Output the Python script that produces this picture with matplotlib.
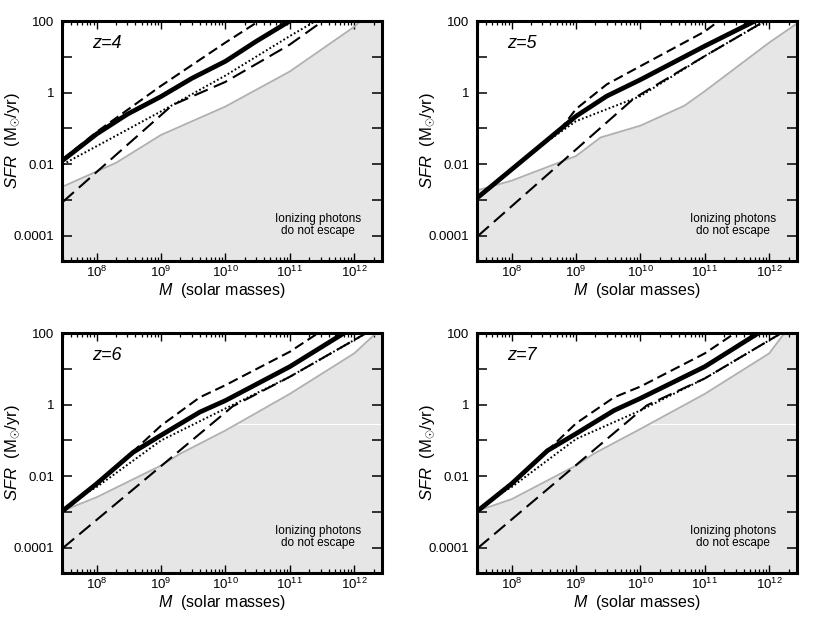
import numpy as np
import matplotlib
matplotlib.use("Agg")
import matplotlib.pyplot as plt
from matplotlib.ticker import FixedLocator, FixedFormatter, LogLocator, FuncFormatter, NullFormatter

plt.rcParams['font.family'] = ['Liberation Sans', 'DejaVu Sans']
plt.rcParams['mathtext.fontset'] = 'custom'
plt.rcParams['mathtext.rm'] = 'Liberation Sans'
plt.rcParams['mathtext.it'] = 'Liberation Sans:italic'
plt.rcParams['mathtext.bf'] = 'Liberation Sans:bold'

# ---------------- data ----------------
redshifts = [4, 5, 6, 7]

# thick solid
solid_M = {4: [3e7, 1e8, 3e8, 1e9, 3e9, 1e10, 3e10, 1e11, 1.3e11],
           5: [3e7, 1e9, 3e9, 1e10, 1e11, 6e11, 8e11],
           6: [3e7, 1e8, 3.7e8, 1e9, 4e9, 1e10, 1e11, 7.6e11],
           7: [3e7, 1e8, 3.6e8, 1e9, 3.9e9, 1e10, 1e11, 7.4e11]}
solid_S = {4: [0.013, 0.07, 0.25, 0.78, 2.5, 7.5, 27, 100, 140],
           5: [0.0012, 0.22, 0.8, 2.3, 20, 100, 130],
           6: [0.0011, 0.0062, 0.047, 0.14, 0.62, 1.3, 11.5, 110],
           7: [0.0011, 0.0062, 0.052, 0.155, 0.69, 1.5, 11.5, 110]}

# short dashed
sdash_M = {4: [3e7, 1e8, 1e9, 1e10, 5e10],
           5: [3e7, 6e8, 1e9, 3e9, 1e10, 1e11, 1.7e11],
           6: [3e7, 1e8, 3e8, 1e9, 4e9, 1e10, 1e11, 3e11],
           7: [3e7, 1e8, 3.6e8, 1e9, 3.9e9, 1e10, 1e11, 3.2e11]}
sdash_S = {4: [0.014, 0.08, 1.55, 25, 160],
           5: [0.0012, 0.105, 0.35, 1.7, 5.5, 51, 105],
           6: [0.0011, 0.0062, 0.035, 0.26, 1.6, 3.5, 30, 110],
           7: [0.0011, 0.0062, 0.052, 0.3, 1.6, 3.2, 27, 110]}

# dotted
dot_M = {4: [3e7, 1e8, 1e9, 1e10, 1e11, 3e11],
         5: [3e7, 2.5e8, 1e9, 1e10, 1e11, 9e11],
         6: [3e7, 6e7, 1e8, 1e9, 1e10, 1e11, 1.7e12],
         7: [3e7, 6e7, 1e8, 1e9, 1e10, 1e11, 1.7e12]}
dot_S = {4: [0.01, 0.032, 0.3, 3.0, 38, 120],
         5: [0.0012, 0.028, 0.16, 0.8, 10.5, 105],
         6: [0.0011, 0.003, 0.005, 0.1, 0.78, 6.0, 110],
         7: [0.0011, 0.003, 0.005, 0.11, 0.69, 5.4, 110]}

# long dashed
ldash_M = {4: [3e7, 1.5e9, 1e10, 1e11, 4e11],
           5: [3e7, 8e9, 1e11, 9e11],
           6: [3e7, 1.3e10, 1e11, 1.7e12],
           7: [3e7, 1.25e10, 1e11, 1.7e12]}
ldash_S = {4: [0.0009, 0.45, 2.0, 22, 130],
           5: [1e-4, 0.7, 10.5, 105],
           6: [1e-4, 0.9, 6.0, 110],
           7: [1e-4, 0.95, 5.4, 110]}

# grey boundary (photons do not escape below)
grey_M = {4: [3e7, 2e8, 1e9, 1e10, 1e11, 1e12, 1.25e12],
          5: [3e7, 1e8, 1e9, 2.4e9, 1e10, 4.8e10, 1e11, 1e12, 2.75e12],
          6: [3e7, 1e8, 1e9, 2e9, 1e10, 1e11, 1e12, 2.2e12],
          7: [3e7, 1e8, 1e9, 1.9e9, 1e10, 1e11, 1e12, 1.8e12]}
grey_S = {4: [0.0024, 0.011, 0.066, 0.41, 3.9, 69, 100],
          5: [0.0019, 0.0035, 0.017, 0.056, 0.12, 0.43, 1.1, 25, 87],
          6: [0.0011, 0.0026, 0.02, 0.043, 0.19, 2.0, 27, 100],
          7: [0.0011, 0.0023, 0.02, 0.043, 0.21, 2.0, 27, 110]}

y_ticks = [1e-4, 1e-3, 1e-2, 1e-1, 1e0, 1e1, 1e2]
y_ticklabels = ['0.0001', '', '0.01', '', '1', '', '100']
x_ticks = [1e8, 1e9, 1e10, 1e11, 1e12]

XLIM = (2.9e7, 2.7e12)
YLIM = (2e-5, 100)

# ---------------- figure ----------------
W, H = 817, 622
fig = plt.figure(figsize=(W / 100, H / 100), dpi=100)

panel_px = {4: (62, 21), 5: (477, 21), 6: (62, 333), 7: (477, 333)}
aw, ah = 320, 240

fill_col = '#e6e6e6'
grey_col = '#b0b0b0'

for z in redshifts:
    lx, ty = panel_px[z]
    ax = fig.add_axes([lx / W, 1 - (ty + ah) / H, aw / W, ah / H])
    ax.set_xscale('log')
    ax.set_yscale('log')
    ax.set_xlim(*XLIM)
    ax.set_ylim(*YLIM)

    gm = np.array(grey_M[z]); gs = np.array(grey_S[z])
    fm = np.append(gm, XLIM[1] * 2)
    fs = np.append(gs, YLIM[1] * 10)
    ax.fill_between(fm, fs, YLIM[0] / 10, color=fill_col, lw=0, zorder=1)
    if z in (6, 7):
        ax.axhline(0.28, color='white', lw=0.8, zorder=1.5)
    ax.plot(gm, gs, color=grey_col, lw=1.3, zorder=2)

    ax.plot(ldash_M[z], ldash_S[z], color='black', lw=1.5,
            linestyle=(0, (7.0, 3.2)), zorder=3)
    ax.plot(dot_M[z], dot_S[z], color='black', lw=1.4,
            linestyle=(0, (0.9, 1.2)), zorder=3)
    ax.plot(sdash_M[z], sdash_S[z], color='black', lw=1.5,
            linestyle=(0, (4.8, 2.4)), zorder=3)
    ax.plot(solid_M[z], solid_S[z], color='black', lw=3.4,
            solid_capstyle='butt', zorder=4)

    # ticks
    ax.yaxis.set_major_locator(FixedLocator(y_ticks))
    ax.yaxis.set_major_formatter(FixedFormatter(y_ticklabels))
    ax.yaxis.set_minor_locator(FixedLocator([]))
    ax.xaxis.set_major_locator(FixedLocator(x_ticks))
    ax.xaxis.set_major_formatter(FuncFormatter(lambda v, p: r'$10^{%d}$' % round(np.log10(v))))
    ax.xaxis.set_minor_locator(LogLocator(base=10, subs=np.arange(2, 10), numticks=20))
    ax.xaxis.set_minor_formatter(NullFormatter())
    ax.tick_params(axis='y', which='major', direction='in', length=7, width=1.1,
                   left=True, right=True, labelsize=9.5, pad=5.5)
    ax.tick_params(axis='x', which='major', direction='in', length=5.5, width=1.0,
                   top=True, bottom=True, labelsize=9.5, pad=2.5)
    ax.tick_params(axis='x', which='minor', direction='in', length=3.2, width=0.9,
                   top=True, bottom=True)
    for sp in ax.spines.values():
        sp.set_linewidth(2.2)
        sp.set_zorder(5)

    ax.set_xlabel(r'$\mathit{M}$  (solar masses)', fontsize=11.5)
    ax.xaxis.set_label_coords(0.5, -0.085)
    ax.set_ylabel(r'$\mathit{SFR}$  (M$_{\odot}$/yr)', fontsize=12)
    ax.yaxis.set_label_coords(-0.125, 0.5)

    ax.text(0.094, 0.905, 'z=%d' % z, transform=ax.transAxes, fontsize=13,
            fontstyle='italic', ha='left', va='center', zorder=6)
    ax.text(0.80, 0.149, 'Ionizing photons\ndo not escape', transform=ax.transAxes,
            fontsize=8.5, ha='center', va='center', linespacing=0.95, zorder=6)

fig.savefig('out.png', dpi=100)
